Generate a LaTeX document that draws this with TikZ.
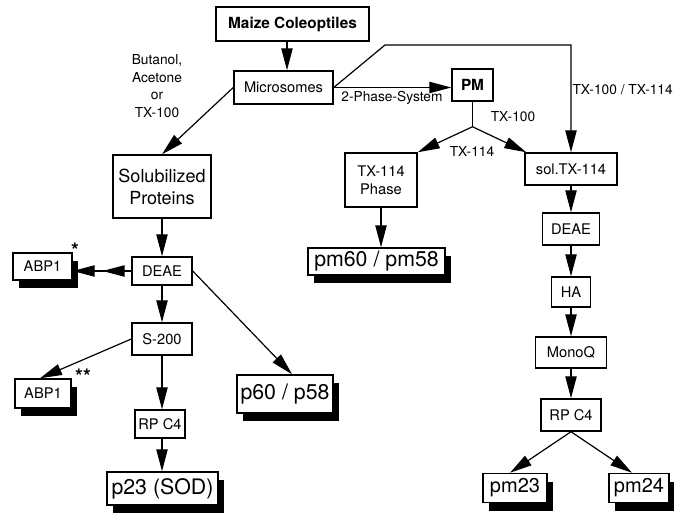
\documentclass[tikz,border=0pt]{standalone}
\usepackage{fontspec}
\setmainfont{TeX Gyre Heros}
\usetikzlibrary{arrows.meta,shadows,calc}
\newdimen\pxu \pxu=0.75pt
\begin{document}
\begin{tikzpicture}[x=0.75pt,y=-0.75pt,
  box/.style={draw,line width=1.1pt,fill=white,inner sep=0pt,align=center,font=\fontsize{11}{13}\selectfont},
  sbox/.style={box,drop shadow={shadow xshift=6\pxu,shadow yshift=-8\pxu,opacity=1,fill=black}},
  bigtxt/.style={font=\fontsize{16}{18}\selectfont},
  boldtxt/.style={font=\bfseries\fontsize{11.5}{13}\selectfont},
  arr/.style={line width=0.9pt,-{Triangle[length=16.5pt,width=8.5pt]}},
  lbl/.style={font=\fontsize{10.3}{13.3}\selectfont,inner sep=0pt,align=center},
  star/.style={font=\bfseries\fontsize{15}{15}\selectfont,inner sep=0pt}]
\useasboundingbox (0,0) rectangle (674,517);
% left / top
\node[box,boldtxt,minimum width=153\pxu,minimum height=34\pxu] (maize) at (292.5,24) {Maize Coleoptiles};
\node[box,minimum width=99\pxu,minimum height=33\pxu] (micro) at (283.5,87.5) {Microsomes};
\node[box,font=\fontsize{13.5}{16.5}\selectfont,minimum width=98\pxu,minimum height=63\pxu] (solub) at (162,186.5) {Solubilized\\Proteins};
\node[box,minimum width=60\pxu,minimum height=28\pxu] (deaeL) at (162,271) {DEAE};
\node[sbox,minimum width=59\pxu,minimum height=27\pxu] (abp1a) at (42.5,266.5) {ABP1};
\node[box,minimum width=60\pxu,minimum height=32\pxu] (s200) at (162,339) {S-200};
\node[sbox,minimum width=56\pxu,minimum height=29\pxu] (abp1b) at (43,393.5) {ABP1};
\node[box,minimum width=50\pxu,minimum height=28\pxu] (rpc4L) at (160,424) {RP C4};
\node[sbox,bigtxt,minimum width=111\pxu,minimum height=33\pxu] (p23) at (162.5,488.5) {p23 (SOD)};
\node[sbox,bigtxt,minimum width=96\pxu,minimum height=38\pxu] (p60) at (285,394) {p60 / p58};
% middle / right
\node[box,boldtxt,minimum width=41\pxu,minimum height=32\pxu] (pm) at (472.5,85) {PM};
\node[box,font=\fontsize{11}{13.5}\selectfont,minimum width=72\pxu,minimum height=54\pxu] (tx114ph) at (381,180) {TX-114\\Phase};
\node[sbox,bigtxt,minimum width=137\pxu,minimum height=27\pxu] (pm60) at (376.5,261.5) {pm60 / pm58};
\node[box,minimum width=92\pxu,minimum height=32\pxu] (soltx) at (571,169) {sol.TX-114};
\node[box,minimum width=57\pxu,minimum height=32\pxu] (deaeR) at (571,229) {DEAE};
\node[box,minimum width=39\pxu,minimum height=30\pxu] (ha) at (571,292) {HA};
\node[box,minimum width=71\pxu,minimum height=31\pxu] (monoq) at (571,352.5) {MonoQ};
\node[box,minimum width=60\pxu,minimum height=32\pxu] (rpc4R) at (571,415) {RP C4};
\node[sbox,font=\fontsize{15}{17}\selectfont,minimum width=64\pxu,minimum height=29\pxu] (pm23) at (515,488) {pm23};
\node[sbox,font=\fontsize{15}{17}\selectfont,minimum width=60\pxu,minimum height=29\pxu] (pm24) at (639,488) {pm24};
% labels
\node[lbl] (lb1) at (157,86) {Butanol,\\Acetone\\or\\TX-100};
\node[lbl] (lb2) at (392,98) {2-Phase-System};
\node[lbl] (lb3) at (513,117) {TX-100};
\node[lbl] (lb4) at (472,151) {TX-114};
\node[lbl,anchor=east] (lb5) at (673,90) {TX-100 / TX-114};
\node[star] (st1) at (75,250) {*};
\node[star] (st2) at (83,376) {**};
% connectors
\draw[arr] ([xshift=3.5\pxu]micro.north |- maize.south) -- ([xshift=3.5\pxu]micro.north);
\draw[arr] (micro.west) -- (solub.north);
\draw[arr] (micro.east) -- (micro.east -| pm.west);
\coordinate (bend) at (385,45);
\draw[arr] (micro.east) -- (bend) -| (soltx.north);
\coordinate (fork) at ($(pm.south)+(0,25)$);
\draw[line width=0.9pt] (pm.south) -- (fork);
\draw[arr] (fork) -- (tx114ph.north east);
\draw[arr] (fork) -- ([xshift=2\pxu]soltx.north west);
\draw[arr] (tx114ph.south) -- (tx114ph.south |- pm60.north);
\draw[arr] (soltx.south) -- (deaeR.north);
\draw[arr] (deaeR.south) -- (ha.north);
\draw[arr] (ha.south) -- (monoq.north);
\draw[arr] (monoq.south) -- (rpc4R.north);
\draw[arr] (rpc4R.south) -- ([xshift=-5\pxu]pm23.north);
\draw[arr] (rpc4R.south) -- ([xshift=-7\pxu]pm24.north);
\draw[arr] (solub.south) -- (deaeL.north);
\draw[arr] (deaeL.west) -- (deaeL.west -| abp1a.east);
\path (deaeL.west) -- (deaeL.west -| abp1a.east) coordinate[pos=0.49] (dh);
\draw[arr] (deaeL.west) -- (dh);
\draw[arr] (deaeL.south) -- (s200.north);
\draw[arr] (s200.west) -- ([xshift=-3\pxu]abp1b.north);
\draw[arr] (s200.south) -- (s200.south |- rpc4L.north);
\draw[arr] (s200.south |- rpc4L.south) -- (s200.south |- p23.north);
\draw[arr] (deaeL.east) -- ([xshift=7\pxu]p60.north);
\end{tikzpicture}
\end{document}
